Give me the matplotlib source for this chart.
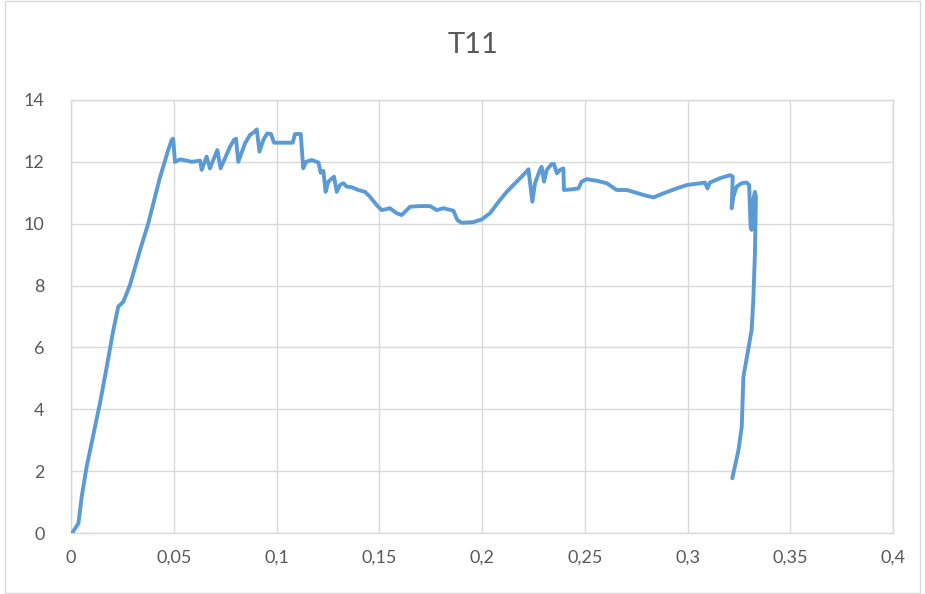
import matplotlib
matplotlib.use("Agg")
import matplotlib.pyplot as plt
from matplotlib.patches import Rectangle
from matplotlib.ticker import FuncFormatter

# deformation / load readings for specimen T11
deformation = [
    0.0, 0.001, 0.0036, 0.0052, 0.0076, 0.0141, 0.0165, 0.0206, 0.023, 0.0255,
    0.0287, 0.0336, 0.0376, 0.0417, 0.0433, 0.0466, 0.0474, 0.049, 0.0497, 0.0506,
    0.053, 0.0563, 0.0587, 0.0628, 0.0636, 0.066, 0.0676, 0.0712, 0.0728, 0.0774,
    0.0793, 0.0803, 0.0814, 0.0847, 0.0871, 0.0892, 0.0904, 0.0917, 0.0936, 0.0955,
    0.0973, 0.0988, 0.1066, 0.1079, 0.109, 0.1118, 0.113, 0.1144, 0.1171, 0.1204,
    0.1215, 0.1228, 0.1239, 0.1252, 0.128, 0.1293, 0.1309, 0.1325, 0.1342, 0.1366,
    0.1398, 0.1431, 0.1455, 0.1488, 0.1512, 0.1552, 0.1585, 0.1609, 0.165, 0.1698,
    0.1747, 0.178, 0.1812, 0.1861, 0.188, 0.1901, 0.1958, 0.1999, 0.2039, 0.2088,
    0.212, 0.2169, 0.2209, 0.2226, 0.2245, 0.2258, 0.2282, 0.229, 0.2302, 0.2315,
    0.2339, 0.235, 0.2364, 0.238, 0.2396, 0.2399, 0.2436, 0.2469, 0.2485, 0.2509,
    0.2558, 0.2607, 0.2655, 0.2704, 0.2736, 0.2785, 0.2834, 0.2882, 0.2947, 0.2996,
    0.3061, 0.3085, 0.3097, 0.3109, 0.3158, 0.3207, 0.322, 0.3215, 0.3223, 0.3239,
    0.3264, 0.3288, 0.33, 0.3307, 0.3312, 0.332, 0.3328, 0.3333, 0.3328, 0.332,
    0.3312, 0.3272, 0.3264, 0.3248, 0.3218,
]
load = [
    0.0, 0.04, 0.31, 1.17, 2.14, 4.2, 5.05, 6.56, 7.32, 7.48,
    8.02, 9.15, 10.01, 11.09, 11.5, 12.22, 12.4, 12.71, 12.75, 12.0,
    12.08, 12.04, 12.0, 12.04, 11.74, 12.17, 11.79, 12.38, 11.79, 12.49,
    12.71, 12.75, 12.0, 12.6, 12.87, 12.97, 13.05, 12.33, 12.71, 12.92,
    12.9, 12.62, 12.62, 12.62, 12.9, 12.9, 11.79, 12.0, 12.06, 11.98,
    11.65, 11.71, 11.03, 11.36, 11.52, 11.03, 11.25, 11.31, 11.2, 11.18,
    11.09, 11.03, 10.87, 10.6, 10.44, 10.5, 10.34, 10.28, 10.55, 10.57,
    10.57, 10.44, 10.5, 10.42, 10.12, 10.03, 10.05, 10.14, 10.34, 10.77,
    11.03, 11.36, 11.63, 11.76, 10.71, 11.31, 11.74, 11.84, 11.36, 11.74,
    11.93, 11.93, 11.63, 11.74, 11.79, 11.09, 11.11, 11.14, 11.36, 11.44,
    11.39, 11.31, 11.09, 11.09, 11.03, 10.93, 10.85, 10.98, 11.14, 11.25,
    11.31, 11.33, 11.14, 11.33, 11.47, 11.57, 11.52, 10.5, 10.87, 11.2,
    11.31, 11.33, 11.25, 9.9, 9.8, 10.77, 11.03, 10.87, 9.0, 7.5,
    6.56, 5.05, 3.44, 2.68, 1.77,
]
x_ticks = [0, 0.05, 0.1, 0.15, 0.2, 0.25, 0.3, 0.35, 0.4]
y_ticks = [0, 2, 4, 6, 8, 10, 12, 14]

plt.rcParams['font.family'] = ['Lato', 'DejaVu Sans']
text_color = '#595959'
grid_color = '#d9d9d9'

fig = plt.figure(figsize=(9.25, 5.94), dpi=100)
fig.patches.append(Rectangle((0.005, 0.002), 0.99, 0.996, transform=fig.transFigure,
                             fill=False, edgecolor=grid_color, linewidth=1.0))
ax = fig.add_axes([71 / 925, 61 / 594, 822 / 925, 433 / 594])

ax.plot(deformation, load, color='#5b9bd5', linewidth=2.8,
        solid_joinstyle='round', solid_capstyle='round', zorder=3)

ax.set_xlim(x_ticks[0], x_ticks[-1])
ax.set_ylim(y_ticks[0], y_ticks[-1])
ax.set_xticks(x_ticks)
ax.set_yticks(y_ticks)
ax.xaxis.set_major_formatter(FuncFormatter(lambda v, p: f'{v:g}'.replace('.', ',')))
ax.grid(True, color=grid_color, linewidth=1.0)
ax.set_axisbelow(True)
for side in ['top', 'right', 'left', 'bottom']:
    ax.spines[side].set_color(grid_color)
    ax.spines[side].set_linewidth(1.0)
ax.tick_params(length=0, colors=text_color, labelsize=13)
ax.tick_params(axis='y', pad=19)
ax.tick_params(axis='x', pad=12)

fig.text(473 / 925, 1 - 45 / 594, 'T11', ha='center', va='center',
         fontsize=21, color=text_color)

fig.savefig('out.png', dpi=100)
